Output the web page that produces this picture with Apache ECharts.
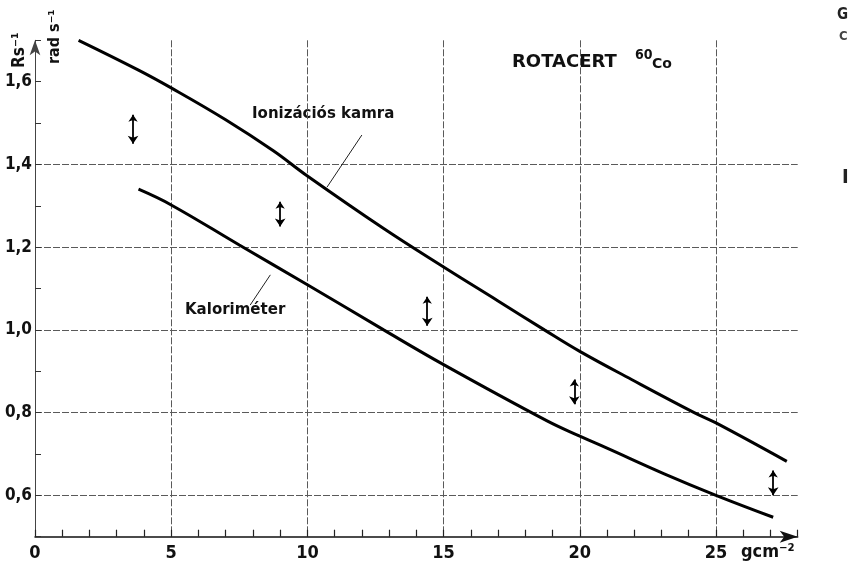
<!DOCTYPE html>
<html>
<head>
<meta charset="utf-8">
<script src="https://cdn.jsdelivr.net/npm/echarts@6/dist/echarts.min.js"></script>
<style>
  html, body { margin: 0; padding: 0; background: #fff; }
  #chart { width: 856px; height: 567px; }
</style>
</head>
<body>
<div id="chart"></div>
<script>
// Ionizációs kamra görbe (x: g/cm2, y: rad/s)
const ionX = [1.6, 3.8, 5, 7, 8.75, 10, 12.8, 15, 17, 18.7, 20, 21.9, 24.2, 25, 27.6];
const ionY = [1.70, 1.628, 1.585, 1.508, 1.433, 1.372, 1.245, 1.152, 1.07, 1.0, 0.948, 0.88, 0.80, 0.775, 0.682];

// Kaloriméter görbe
const kalX = [3.8, 5, 7.5, 10, 12.8, 15, 18.8, 20, 21, 23.1, 25, 27.1];
const kalY = [1.340, 1.302, 1.205, 1.109, 1.0, 0.916, 0.78, 0.743, 0.714, 0.652, 0.60, 0.547];

// kettős nyilak (szórás)
const arrowX = [3.6, 9.0, 14.4, 19.8, 27.1];
const arrowTop = [1.52, 1.31, 1.08, 0.88, 0.66];
const arrowBottom = [1.45, 1.25, 1.01, 0.82, 0.60];

const xTicks = [0, 5, 10, 15, 20, 25];

const zip = (xs, ys) => xs.map((x, i) => [x, ys[i]]);
const T = 'rgba(0,0,0,0)';
const G = '#5a5a5a';
const numFont = '"Liberation Sans Narrow", "DejaVu Sans Condensed", sans-serif';
const txtFont = '"DejaVu Sans", sans-serif';

const myChart = echarts.init(document.getElementById('chart'), null, { renderer: 'canvas' });

const option = {
  backgroundColor: '#fff',
  animation: false,
  grid: {
    left: 35,
    right: 58.3,
    top: 40.3,
    bottom: 30.3,
    containLabel: false,
    outerBoundsMode: 'none'
  },
  xAxis: {
    type: 'value',
    min: 0,
    max: 28,
    interval: 5,
    axisLine: {
      show: true,
      symbol: ['none', 'arrow'],
      symbolSize: [9, 18],
      lineStyle: { color: '#111', width: 1.5 }
    },
    axisTick: { show: true, inside: true, length: 7, lineStyle: { color: '#222', width: 1.2 } },
    minorTick: { show: true, splitNumber: 5, length: 7, lineStyle: { color: '#222', width: 1.2 } },
    splitLine: {
      show: true,
      lineStyle: { color: [G, G, G, G, G, G, T], width: 1, type: [7, 2] }
    },
    axisLabel: {
      margin: 8,
      color: '#111',
      fontFamily: numFont,
      fontWeight: 'bold',
      fontSize: 18,
      formatter: v => xTicks.indexOf(v) >= 0 ? String(v) : ''
    }
  },
  yAxis: {
    type: 'value',
    min: 0.5,
    max: 1.7,
    interval: 0.1,
    axisLine: {
      show: true,
      symbol: ['none', 'arrow'],
      symbolSize: [8, 15],
      lineStyle: { color: '#444', width: 1 }
    },
    axisTick: { show: true, inside: true, length: 6, lineStyle: { color: '#333', width: 1 } },
    splitLine: {
      show: true,
      lineStyle: { color: [T, G, T, G, T, G, T, G, T, G, T, T, T], width: 1, type: [7, 2] }
    },
    axisLabel: {
      margin: 3,
      color: '#111',
      fontFamily: numFont,
      fontWeight: 'bold',
      fontSize: 17,
      formatter: v => {
        const k = Math.round(v * 10);
        if (Math.abs(v * 10 - k) > 1e-6 || k % 2 !== 0) return '';
        return v.toFixed(1).replace('.', ',');
      }
    }
  },
  series: [
    {
      name: 'Ionizációs kamra',
      type: 'line',
      data: zip(ionX, ionY),
      smooth: 0.4,
      symbol: 'none',
      lineStyle: { color: '#000', width: 3 },
      markLine: {
        silent: true,
        symbol: 'none',
        label: { show: false },
        lineStyle: { color: '#222', width: 1, type: 'solid' },
        data: [[{ coord: [12.0, 1.471] }, { coord: [10.72, 1.345] }]]
      }
    },
    {
      name: 'Kaloriméter',
      type: 'line',
      data: zip(kalX, kalY),
      smooth: 0.4,
      symbol: 'none',
      lineStyle: { color: '#000', width: 3 },
      markLine: {
        silent: true,
        symbol: 'none',
        label: { show: false },
        lineStyle: { color: '#222', width: 1, type: 'solid' },
        data: [[{ coord: [7.9, 1.06] }, { coord: [8.64, 1.133] }]]
      }
    },
    {
      name: 'szórás',
      type: 'lines',
      coordinateSystem: 'cartesian2d',
      symbol: ['arrow', 'arrow'],
      symbolSize: [7, 8],
      lineStyle: { color: '#000', width: 1.8, opacity: 1 },
      data: arrowX.map((x, i) => ({ coords: [[x, arrowTop[i]], [x, arrowBottom[i]]] }))
    }
  ],
  graphic: [
    { type: 'text', left: 252, top: 107, style: { text: 'Ionizációs kamra', font: 'bold 15px ' + txtFont, fill: '#111' } },
    { type: 'text', left: 185, top: 303, style: { text: 'Kaloriméter', font: 'bold 15px ' + txtFont, fill: '#111' } },
    { type: 'text', left: 512, top: 53, style: { text: 'ROTACERT', font: 'bold 18px ' + txtFont, fill: '#111' } },
    { type: 'text', left: 635, top: 48, style: { text: '60', font: 'bold 14px ' + numFont, fill: '#111' } },
    { type: 'text', left: 652, top: 57, style: { text: 'Co', font: 'bold 14px ' + txtFont, fill: '#111' } },
    { type: 'text', left: 741, top: 543, style: { text: 'gcm\u207B\u00B2', font: 'bold 18px ' + numFont, fill: '#111' } },
    { type: 'text', x: 11, y: 68, rotation: Math.PI / 2, style: { text: 'Rs\u207B\u00B9', font: 'bold 17px ' + numFont, fill: '#111' } },
    { type: 'text', x: 47, y: 64, rotation: Math.PI / 2, style: { text: 'rad s\u207B\u00B9', font: 'bold 16px ' + numFont, fill: '#111' } },
    { type: 'text', left: 837, top: 8, style: { text: 'G', font: 'bold 15px ' + numFont, fill: '#222' } },
    { type: 'text', left: 839, top: 30, style: { text: 'C', font: 'bold 13px ' + numFont, fill: '#444' } },
    { type: 'text', left: 842, top: 168, style: { text: 'I', font: 'bold 20px ' + numFont, fill: '#222' } }
  ]
};

myChart.setOption(option);
</script>
</body>
</html>
